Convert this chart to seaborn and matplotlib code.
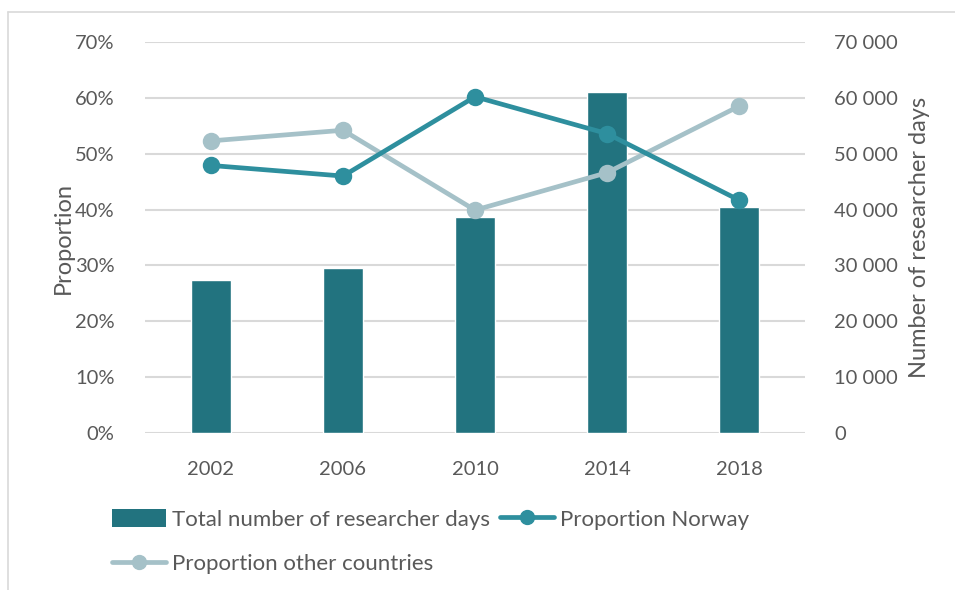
import matplotlib
matplotlib.use("Agg")
import matplotlib.pyplot as plt
from matplotlib.lines import Line2D
from matplotlib.patches import Patch
from matplotlib.ticker import FuncFormatter, MultipleLocator
import seaborn as sns

# ------------------------------------------------------------
# DATA
# ------------------------------------------------------------
years = ["2002", "2006", "2010", "2014", "2018"]
researcher_days = [27400, 29500, 38600, 61100, 40400]
share_norway = [0.479, 0.460, 0.602, 0.536, 0.417]
share_other = [0.523, 0.542, 0.399, 0.466, 0.585]

BAR_COLOR = "#22737F"
NORWAY_COLOR = "#2E8F9E"
OTHER_COLOR = "#A5C1C8"
GRID_COLOR = "#D9D9D9"
TEXT_COLOR = "#595959"
TICK_FS = 14.5
LABEL_FS = 17
LEGEND_FS = 16

sns.set_theme(style="white")
plt.rcParams["font.family"] = ["Lato", "DejaVu Sans"]
plt.rcParams["text.color"] = TEXT_COLOR
plt.rcParams["axes.labelcolor"] = TEXT_COLOR
plt.rcParams["xtick.color"] = TEXT_COLOR
plt.rcParams["ytick.color"] = TEXT_COLOR

fig, ax = plt.subplots(figsize=(9.55, 5.9), dpi=100)
fig.subplots_adjust(left=145 / 955, right=805 / 955, top=1 - 42 / 590, bottom=1 - 433 / 590)
ax2 = ax.twinx()

# bars on the secondary (right) axis, drawn underneath the lines
sns.barplot(x=years, y=researcher_days, color=BAR_COLOR, width=0.31,
            saturation=1, ax=ax2, zorder=2)

# proportion lines on the primary (left) axis
sns.pointplot(x=years, y=share_other, color=OTHER_COLOR, markers="o",
              markersize=10, linewidth=3.4, ax=ax)
sns.pointplot(x=years, y=share_norway, color=NORWAY_COLOR, markers="o",
              markersize=10, linewidth=3.4, ax=ax)

ax.set_zorder(ax2.get_zorder() + 1)
ax.patch.set_visible(False)

# axes ranges / ticks
ax.set_xlim(-0.5, len(years) - 0.5)
ax.set_ylim(0, 0.70)
ax2.set_ylim(0, 70000)
ax.yaxis.set_major_locator(MultipleLocator(0.10))
ax2.yaxis.set_major_locator(MultipleLocator(10000))
ax.yaxis.set_major_formatter(FuncFormatter(lambda v, _: f"{v * 100:.0f}%"))
ax2.yaxis.set_major_formatter(FuncFormatter(lambda v, _: f"{int(round(v)):,}".replace(",", " ")))

# gridlines live on the bar axis so the bars cover them
ax.grid(False)
ax2.grid(axis="y", color=GRID_COLOR, linewidth=1.5)
ax2.set_axisbelow(True)
ax2.grid(axis="x", visible=False)

for a in (ax, ax2):
    for side in ("top", "left", "right", "bottom"):
        a.spines[side].set_visible(False)
    a.tick_params(length=0, labelsize=TICK_FS)
ax.tick_params(axis="y", pad=22)
ax.tick_params(axis="x", pad=20)
ax2.tick_params(axis="y", pad=21)

ax.set_xlabel("")
ax2.set_xlabel("")
ax.set_ylabel("Proportion", fontsize=LABEL_FS, labelpad=1)
ax2.set_ylabel("Number of researcher days", fontsize=LABEL_FS, labelpad=8)

# legend: same flow as the original (bar + Norway on first row, other below)
handles = [
    Patch(facecolor=BAR_COLOR, edgecolor="none"),
    Line2D([], [], color=OTHER_COLOR, linewidth=3.4, marker="o", markersize=10),
    Line2D([], [], color=NORWAY_COLOR, linewidth=3.4, marker="o", markersize=10),
]
labels = ["Total number of researcher days", "Proportion other countries", "Proportion Norway"]
fig.legend(handles, labels, loc="upper left", bbox_to_anchor=(112 / 955, 1 - 509 / 590),
           ncol=2, frameon=False, fontsize=LEGEND_FS, handlelength=2.45, handleheight=0.9,
           handletextpad=0.25, columnspacing=0.45, labelspacing=1.05, borderpad=0,
           borderaxespad=0)

# light chart-area border (left and top edges visible in the reference)
bx, by = 8 / 955, 1 - 12 / 590
fig.add_artist(Line2D([bx, bx], [0, by], transform=fig.transFigure, color=GRID_COLOR, linewidth=1.2))
fig.add_artist(Line2D([bx, 1], [by, by], transform=fig.transFigure, color=GRID_COLOR, linewidth=1.2))

fig.savefig("out.png", dpi=100, facecolor="white")
